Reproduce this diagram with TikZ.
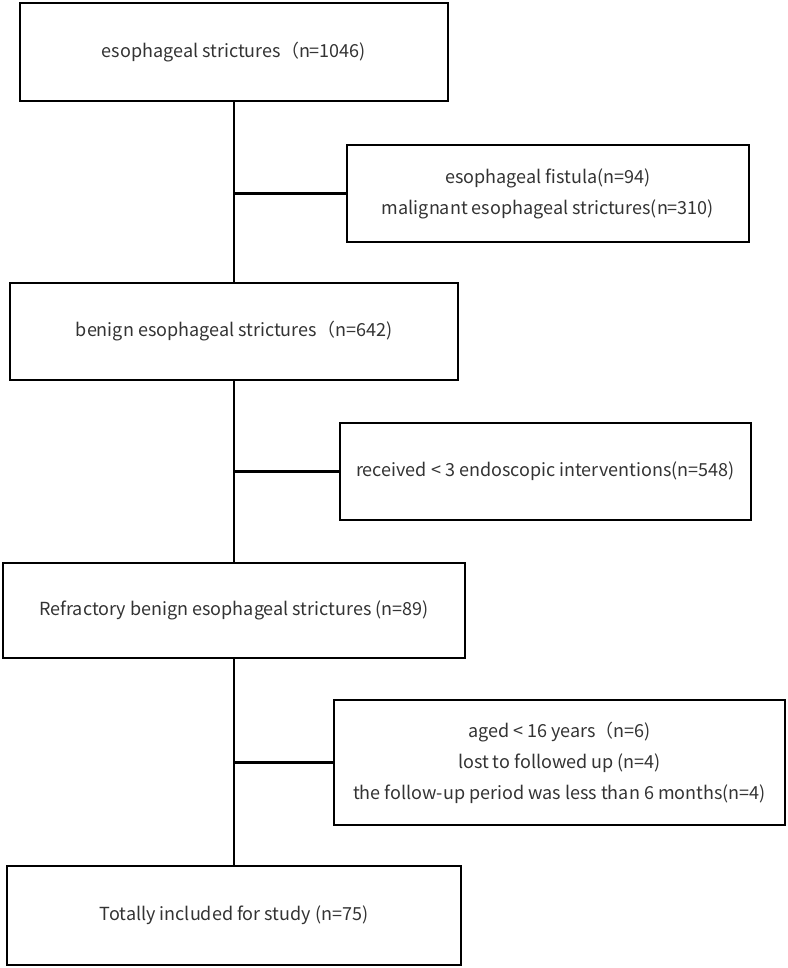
\documentclass[tikz,border=0pt]{standalone}
\usepackage{fontspec}
\setmainfont{Noto Sans CJK SC}
\usepackage{tikz}
\usepackage{xcolor}

\tikzset{
    box/.style={draw, line width=1.6pt, inner sep=0pt, align=center,
        text=black!80, font=\fontsize{18}{31}\selectfont},
    link/.style={line width=2.2pt}
}

\begin{document}
\begin{tikzpicture}[x=1pt, y=-1pt]
    \useasboundingbox (0,0) rectangle (787,968);

    % Main column
    \node[box, minimum width=428, minimum height=98] (total) at (234,52) {esophageal strictures（n=1046)};
    \node[box, minimum width=448, minimum height=97] (benign) at (234,331.5) {benign esophageal strictures（n=642)};
    \node[box, minimum width=462, minimum height=95] (refrac) at (234,610.5) {Refractory benign esophageal strictures (n=89)};
    \node[box, minimum width=454, minimum height=99] (incl) at (234,915.5) {Totally included for study (n=75)};

    % Exclusions
    \node[box, minimum width=402, minimum height=97] (excl1) at (548,193.5) {esophageal fistula(n=94)\\malignant esophageal strictures(n=310)};
    \node[box, minimum width=411, minimum height=97] (excl2) at (545.5,471.5) {received \textless{} 3 endoscopic interventions(n=548)};
    \node[box, minimum width=451, minimum height=125] (excl3) at (559.5,762.5) {aged \textless{} 16 years（n=6)\\lost to followed up (n=4)\\the follow-up period was less than 6 months(n=4)};

    % Connectors
    \draw[link] (total.south) -- (benign.north);
    \draw[link] (benign.south) -- (refrac.north);
    \draw[link] (refrac.south) -- (incl.north);
    \draw[link] (total.south |- excl1.west) -- (excl1.west);
    \draw[link] (benign.south |- excl2.west) -- (excl2.west);
    \draw[link] (refrac.south |- excl3.west) -- (excl3.west);
\end{tikzpicture}
\end{document}
